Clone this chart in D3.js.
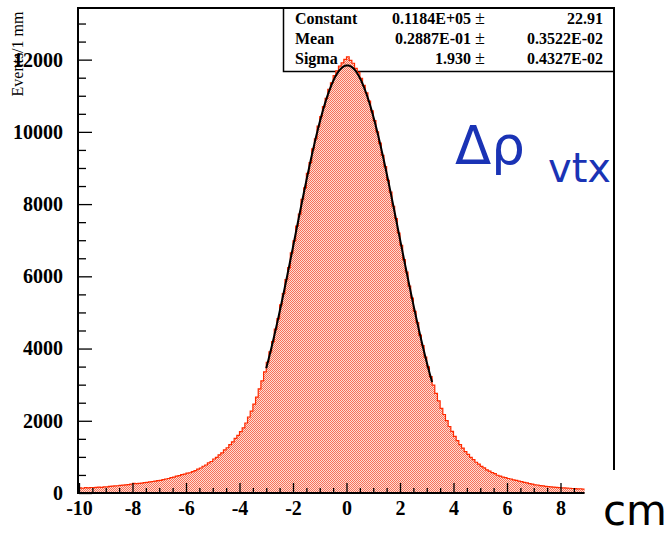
<!DOCTYPE html>
<html>
<head>
<meta charset="utf-8">
<script src="https://cdn.jsdelivr.net/npm/d3@7"></script>
<style>
  html, body { margin: 0; padding: 0; background: #fff; }
  svg { display: block; }
</style>
</head>
<body>
<svg id="chart" width="670" height="535"></svg>
<script>
// ---- data ----
const xDomain = [-10, 10];
const binWidth = 0.1;               // 1 mm bins
const counts = [
  140, 132, 148, 141, 152, 147, 158, 163, 157, 172, 168, 181, 188, 196, 201, 212, 216, 227, 233, 246,
  268, 258, 266, 275, 290, 294, 306, 318, 329, 341, 352, 368, 388, 402, 428, 441, 466, 482, 507, 522,
  548, 561, 593, 618, 660, 692, 741, 776, 834, 872, 941, 986, 1058, 1109, 1192, 1253, 1341, 1416, 1512, 1594,
  1697, 1806, 1938, 2104, 2268, 2462, 2655, 2884, 3106, 3352,
  3620, 3910, 4190, 4540, 4830, 5210, 5520, 5910, 6240, 6650, 6980, 7390, 7720, 8130, 8450, 8850, 9150, 9530, 9810, 10160,
  10420, 10700, 10930, 11180, 11360, 11560, 11690, 11820, 11910, 12010,
  12080, 11980, 11900, 11760, 11650, 11480, 11290, 11080, 10850, 10580, 10310, 10000, 9690, 9350, 9040, 8660, 8330, 7940, 7600, 7200,
  6860, 6460, 6120, 5730, 5400, 5030, 4720, 4370, 4080, 3760,
  3490, 3220, 2985, 2758, 2552, 2346, 2174, 2003, 1842, 1706, 1568, 1452, 1338, 1244, 1148, 1067, 988, 923, 852, 797,
  738, 694, 641, 608, 562, 534, 491, 468, 437, 426, 401, 388, 362, 348, 328, 315, 293, 278, 257, 243,
  226, 221, 207, 198, 184, 179, 168, 165, 154, 151, 143, 141, 133, 131, 124, 122, 116, 118, 109
];
const xMajorTicks = [-10, -8, -6, -4, -2, 0, 2, 4, 6, 8];
const yMajorTicks = [0, 2000, 4000, 6000, 8000, 10000, 12000];
const yMax = 13430;

// fit parameters (from the stats box)
const fitConstant = 11840;
const fitMean = 0.02887;
const fitSigma = 1.930;
const fitRange = [-3.0, 3.2];

const statNames = ["Constant", "Mean", "Sigma"];
const statValues = ["0.1184E+05", "0.2887E-01", "1.930"];
const statErrors = ["22.91", "0.3522E-02", "0.4327E-02"];

const yLabel = "Events/1 mm";
const xUnit = "cm";

// ---- drawing ----
const svg = d3.select("#chart");
const L = 79, R = 614, T = 8, B = 493;
const x = d3.scaleLinear().domain(xDomain).range([L, R]);
const y = d3.scaleLinear().domain([0, yMax]).range([B, T]);

const defs = svg.append("defs");
const pat = defs.append("pattern").attr("id", "chk").attr("patternUnits", "userSpaceOnUse")
  .attr("width", 2).attr("height", 2);
pat.append("rect").attr("width", 2).attr("height", 2).attr("fill", "#ffddd2");
pat.append("rect").attr("x", 0).attr("y", 0).attr("width", 1).attr("height", 1).attr("fill", "#f6705a");
pat.append("rect").attr("x", 1).attr("y", 1).attr("width", 1).attr("height", 1).attr("fill", "#f6705a");

// stats box (drawn under the histogram)
const serif = "'Liberation Serif', 'Times New Roman', serif";
const box = svg.append("g");
box.append("rect").attr("x", 283.5).attr("y", T).attr("width", R - 283.5).attr("height", 63.5)
  .attr("fill", "#fff").attr("stroke", "#000").attr("stroke-width", 1.5);
statNames.forEach((n, i) => {
  const by = 24 + i * 20;
  box.append("text").attr("x", 295).attr("y", by).text(n)
    .attr("font-family", serif).attr("font-weight", "bold").attr("font-size", 16);
  box.append("text").attr("x", 471).attr("y", by).text(statValues[i]).attr("text-anchor", "end")
    .attr("font-family", serif).attr("font-weight", "bold").attr("font-size", 16);
  box.append("text").attr("x", 475).attr("y", by).text("\u00B1")
    .attr("font-family", serif).attr("font-size", 18);
  box.append("text").attr("x", 603).attr("y", by).text(statErrors[i]).attr("text-anchor", "end")
    .attr("font-family", serif).attr("font-weight", "bold").attr("font-size", 16);
});

// histogram
const pts = counts.map((c, i) => ({ x0: xDomain[0] + i * binWidth, c }));
pts.push({ x0: xDomain[0] + counts.length * binWidth, c: counts[counts.length - 1] });
const area = d3.area().curve(d3.curveStepAfter).x(d => x(d.x0)).y0(y(0)).y1(d => y(d.c));
const line = d3.line().curve(d3.curveStepAfter).x(d => x(d.x0)).y(d => y(d.c));
svg.append("path").datum(pts).attr("d", area).attr("fill", "url(#chk)");
svg.append("path").datum(pts).attr("d", line).attr("fill", "none").attr("stroke", "#ff2a00").attr("stroke-width", 1.2);

// gaussian fit
const fitX = d3.range(fitRange[0], fitRange[1] + 1e-9, 0.02);
const gauss = v => fitConstant * Math.exp(-0.5 * ((v - fitMean) / fitSigma) ** 2);
svg.append("path").datum(fitX)
  .attr("d", d3.line().x(d => x(d)).y(d => y(gauss(d))))
  .attr("fill", "none").attr("stroke", "#000").attr("stroke-width", 2);

// axes
const xEnd = xDomain[0] + counts.length * binWidth;
const fmt = d => String(d);
const xMinor = d3.range(-10, xEnd, 0.5).filter(v => !xMajorTicks.includes(v));
const gx = svg.append("g").attr("transform", `translate(0,${B})`);
gx.call(d3.axisBottom(x).tickValues(xMinor).tickSize(-5).tickFormat(""));
gx.call(g => g.select(".domain").remove());
const gx2 = svg.append("g").attr("transform", `translate(0,${B})`);
gx2.call(d3.axisBottom(x).tickValues(xMajorTicks).tickSize(-10).tickPadding(8).tickFormat(fmt));
gx2.call(g => g.select(".domain").remove());
gx2.selectAll("text").attr("font-family", serif).attr("font-weight", "bold").attr("font-size", 20).attr("fill", "#000");

const yMinor = d3.range(500, yMax, 500).filter(v => !yMajorTicks.includes(v));
const gy = svg.append("g").attr("transform", `translate(${L},0)`);
gy.call(d3.axisLeft(y).tickValues(yMinor).tickSize(-7).tickFormat(""));
gy.call(g => g.select(".domain").remove());
const gy2 = svg.append("g").attr("transform", `translate(${L},0)`);
gy2.call(d3.axisLeft(y).tickValues(yMajorTicks).tickSize(-13).tickPadding(16).tickFormat(fmt));
gy2.call(g => g.select(".domain").remove());
gy2.selectAll("text").attr("font-family", serif).attr("font-weight", "bold").attr("font-size", 20).attr("fill", "#000");
svg.selectAll(".tick line").attr("stroke", "#000").attr("stroke-width", 1.3);

// frame
svg.append("line").attr("x1", L - 1).attr("x2", L - 1).attr("y1", T - 1).attr("y2", B + 1).attr("stroke", "#000").attr("stroke-width", 2);
svg.append("line").attr("x1", L - 2).attr("x2", x(xEnd)).attr("y1", B).attr("y2", B).attr("stroke", "#000").attr("stroke-width", 2);
svg.append("line").attr("x1", L - 2).attr("x2", R + 1).attr("y1", T).attr("y2", T).attr("stroke", "#000").attr("stroke-width", 2);
svg.append("line").attr("x1", R).attr("x2", R).attr("y1", T).attr("y2", 470).attr("stroke", "#000").attr("stroke-width", 2);

// y label
svg.append("text").attr("transform", "translate(23,54) rotate(-90)").attr("text-anchor", "middle")
  .attr("font-family", serif).attr("font-size", 16).text(yLabel);

// annotations
const ann = svg.append("text").attr("x", 455).attr("y", 164).attr("fill", "#1a33b5")
  .attr("font-family", "'DejaVu Sans', sans-serif");
ann.append("tspan").attr("font-size", 53).text("\u0394\u03C1");
ann.append("tspan").attr("x", 548).attr("y", 182).attr("font-size", 40).text("vtx");

svg.append("text").attr("x", 603).attr("y", 525).attr("font-family", "'DejaVu Sans', sans-serif")
  .attr("font-size", 42).attr("fill", "#000").text(xUnit);
</script>
</body>
</html>
